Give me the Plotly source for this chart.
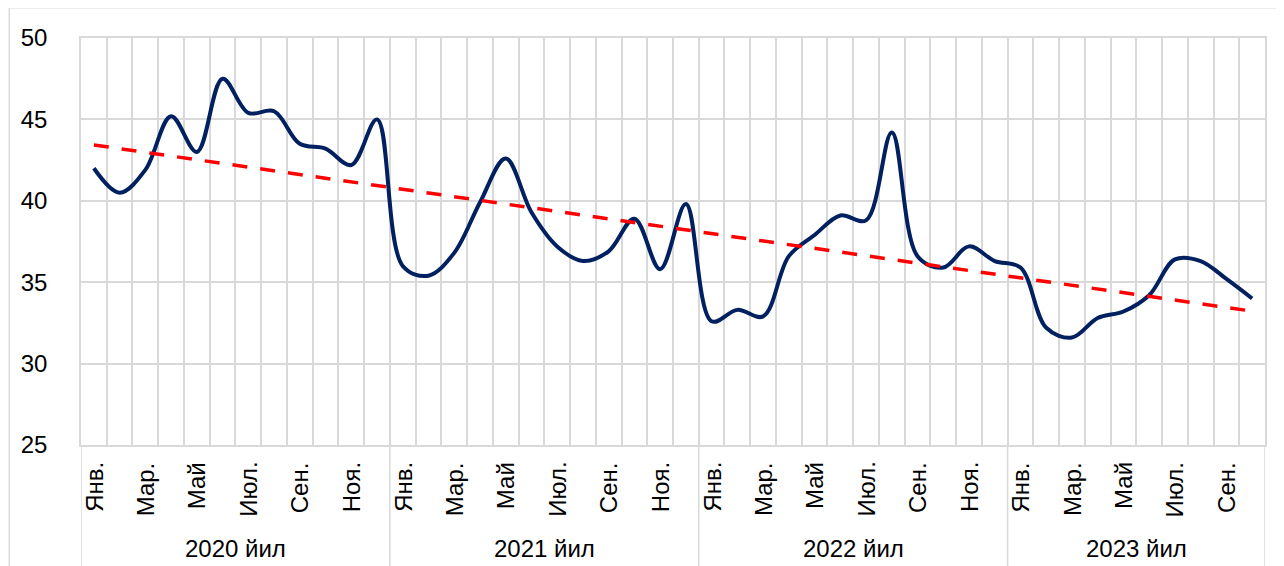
import numpy as np
import plotly.graph_objects as go

years = ["2020 йил", "2021 йил", "2022 йил", "2023 йил"]
months = ["Янв.", "Фев.", "Мар.", "Апр.", "Май", "Июн.", "Июл.", "Авг.", "Сен.", "Окт.", "Ноя.", "Дек."]
months_per_year = [12, 12, 12, 10]

values_2020 = [42.0, 40.5, 41.9, 45.2, 43.0, 47.5, 45.4, 45.5, 43.5, 43.2, 42.2, 45.0]
values_2021 = [36.0, 35.4, 36.8, 39.9, 42.6, 39.3, 37.2, 36.3, 36.9, 38.9, 35.8, 39.8]
values_2022 = [32.6, 33.3, 32.9, 36.6, 37.9, 39.1, 38.8, 44.2, 36.6, 35.9, 37.2, 36.3]
values_2023 = [35.9, 32.2, 31.6, 32.8, 33.2, 34.2, 36.4, 36.3, 35.2, 34.0]

values = values_2020 + values_2021 + values_2022 + values_2023
n = len(values)
xs = list(range(n))

# Linear trend (least squares, like the spreadsheet trendline)
slope, intercept = np.polyfit(xs, values, 1)
trend = [slope * x + intercept for x in xs]

FONT = "Arial, Liberation Sans, sans-serif"
GRID = "#D9D9D9"
GW = 1.5
FS = 24

# page has an 8px body margin; the figure is sized to fit the window
W, H = 1276, 558
ml, mr, mt, mb = 72.7, 19, 29.7, 121
plot_h = H - mt - mb
plot_w = W - ml - mr

fig = go.Figure()
fig.add_trace(go.Scatter(
    x=xs, y=values, mode="lines",
    line=dict(color="#002060", width=4, shape="spline", smoothing=1.0),
    hoverinfo="skip", showlegend=False,
))
fig.add_trace(go.Scatter(
    x=xs, y=trend, mode="lines",
    line=dict(color="#FF0000", width=3.5, dash="15px,13px"),
    hoverinfo="skip", showlegend=False,
))

annotations = []
shapes = []
idx = 0
for yi, (yr, cnt) in enumerate(zip(years, months_per_year)):
    start = idx
    for m in range(cnt):
        if m % 2 == 0:
            annotations.append(dict(
                x=idx, xref="x", y=0, yref="paper", yshift=-15,
                text=months[m], showarrow=False, textangle=-90,
                xanchor="center", yanchor="top",
                font=dict(family=FONT, size=FS, color="#000000"),
            ))
        idx += 1
    end = idx - 1
    annotations.append(dict(
        x=(start + end) / 2, xref="x", y=0, yref="paper", yshift=-103,
        text=yr, showarrow=False, xanchor="center", yanchor="middle",
        font=dict(family=FONT, size=FS, color="#000000"),
    ))
    shapes.append(dict(type="line", xref="x", yref="paper",
                       x0=start - 0.5, x1=start - 0.5, y0=0, y1=-0.35,
                       line=dict(color=GRID, width=GW)))
shapes.append(dict(type="line", xref="x", yref="paper",
                   x0=n - 0.5, x1=n - 0.5, y0=0, y1=-0.35,
                   line=dict(color=GRID, width=GW)))
# outer chart border (partially visible)
shapes.append(dict(type="rect", xref="paper", yref="paper",
                   x0=(1 - ml) / plot_w, x1=1.2,
                   y0=-0.5, y1=1 + (mt + 0.5) / plot_h,
                   line=dict(color=GRID, width=GW), layer="below"))

fig.update_layout(
    width=W, height=H,
    margin=dict(l=ml, r=mr, t=mt, b=mb, pad=0),
    paper_bgcolor="white", plot_bgcolor="white",
    showlegend=False,
    xaxis=dict(
        range=[-0.5, n - 0.5],
        tickmode="array", tickvals=[i - 0.5 for i in range(n + 1)],
        showticklabels=False, ticks="",
        showgrid=True, gridcolor=GRID, gridwidth=GW,
        zeroline=False, showline=True, mirror=True, linecolor=GRID, linewidth=GW,
        fixedrange=True,
    ),
    yaxis=dict(
        range=[25, 50], tick0=25, dtick=5,
        showgrid=True, gridcolor=GRID, gridwidth=GW,
        zeroline=False, showline=True, mirror=True, linecolor=GRID, linewidth=GW,
        ticks="", ticklabelstandoff=27,
        tickfont=dict(family=FONT, size=FS, color="#000000"),
        fixedrange=True,
    ),
    annotations=annotations,
    shapes=shapes,
)

fig.write_html("out.html")
